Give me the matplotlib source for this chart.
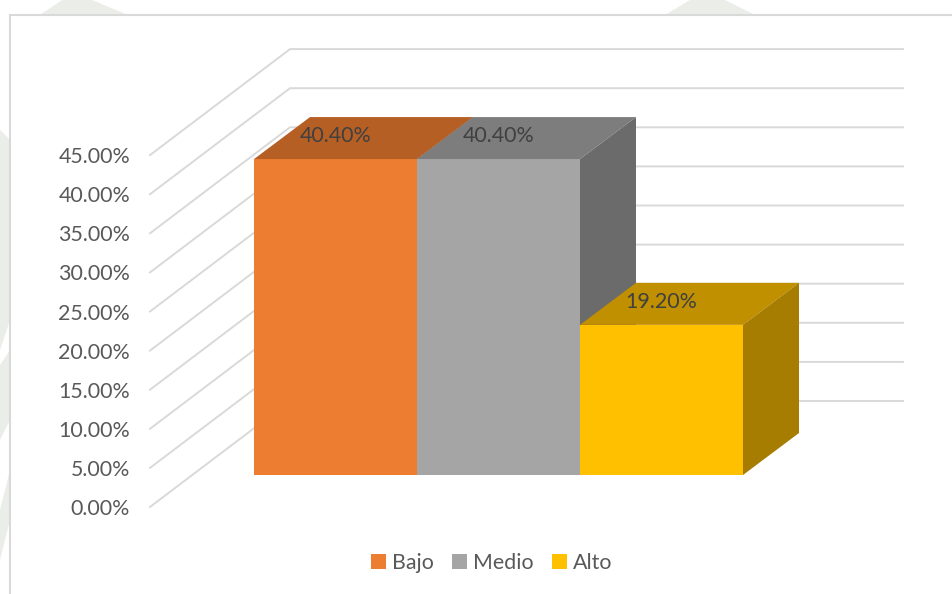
import matplotlib
matplotlib.use('Agg')
import matplotlib.pyplot as plt
from matplotlib.patches import Patch, Polygon, Rectangle

categories = ['Bajo', 'Medio', 'Alto']
values = [40.40, 40.40, 19.20]
ticks = [0, 5, 10, 15, 20, 25, 30, 35, 40, 45]

front_colors = ['#ED7D31', '#A5A5A5', '#FFC000']
top_colors = ['#B65F25', '#7D7D7D', '#C09000']
side_colors = ['#9E5221', '#6B6B6B', '#A67D00']

W, H = 953, 594
PX_X = 163.0   # pixels for one category
PX_Y = 7.82    # pixels for one percent
X0 = 335.5     # pixel of category 0 centre
Y0 = 475.0     # pixel of value 0 on the bar front
FONT = 15.4


def dx(px):
    return px / PX_X


def dy(px):
    return px / PX_Y


plt.rcParams['font.family'] = ['Lato', 'DejaVu Sans']

fig = plt.figure(figsize=(W / 100, H / 100), dpi=100)

# faint watermark and chart frame, in pixels
bg = fig.add_axes([0, 0, 1, 1])
bg.set_xlim(0, W)
bg.set_ylim(H, 0)
bg.axis('off')
for poly in [[(40, 15), (62, 0), (92, 0), (128, 15)],
             [(665, 15), (690, 0), (725, 0), (755, 15)],
             [(0, 130), (10, 140), (10, 320), (0, 350)],
             [(0, 365), (10, 350), (10, 420), (0, 440)],
             [(0, 510), (10, 470), (10, 520), (0, 560)]]:
    bg.add_patch(Polygon(poly, closed=True, fc='#EBEDE8', ec='none'))
bg.add_patch(Rectangle((10, 15), W, H, fc='white', ec='#D9D9D9', lw=1.5))

ax = fig.add_axes([0, 0, 1, 1])
ax.patch.set_alpha(0)
ax.set_xlim(-X0 / PX_X, (W - X0) / PX_X)
ax.set_ylim(-(H - Y0) / PX_Y, Y0 / PX_Y)
ax.axis('off')

# walls: gridlines run along the side wall, then across the back wall
wall_front_x = dx(150 - X0)
wall_back_x = dx(290 - X0)
wall_end_x = dx(903 - X0)
wall_front_y = dy(-32)
wall_back_y = dy(74)
for t in ticks:
    ax.plot([wall_front_x, wall_back_x, wall_end_x],
            [t + wall_front_y, t + wall_back_y, t + wall_back_y],
            color='#D9D9D9', lw=1.4, zorder=1, solid_joinstyle='miter')
    ax.text(dx(130 - X0), t + wall_front_y + dy(-2), '%.2f%%' % t, ha='right', va='center',
            fontsize=FONT, color='#595959')

# bars: front face from ax.bar, then depth faces
depth_x = dx(56)
depth_y = dy(42)
for i, v in enumerate(values):
    ax.bar(i, v, width=1.0, color=front_colors[i], zorder=2 + i)
    ax.add_patch(Polygon([(i - 0.5, v), (i + 0.5, v),
                          (i + 0.5 + depth_x, v + depth_y), (i - 0.5 + depth_x, v + depth_y)],
                         closed=True, fc=top_colors[i], ec='none', zorder=2 + i))
    ax.add_patch(Polygon([(i + 0.5, 0), (i + 0.5 + depth_x, depth_y),
                          (i + 0.5 + depth_x, v + depth_y), (i + 0.5, v)],
                         closed=True, fc=side_colors[i], ec='none', zorder=2 + i))
    ax.text(i, v + dy(23), '%.2f%%' % v, ha='center', va='center',
            fontsize=FONT, color='#404040', zorder=10)

handles = [Patch(fc=c, ec='none') for c in front_colors]
ax.legend(handles, categories, ncol=3, frameon=False, loc='center',
          bbox_to_anchor=(492 / W, 1 - 563 / H), fontsize=FONT, labelcolor='#595959',
          handlelength=0.68, handleheight=0.68, handletextpad=0.3, columnspacing=0.85)

fig.savefig('out.png', dpi=100)
